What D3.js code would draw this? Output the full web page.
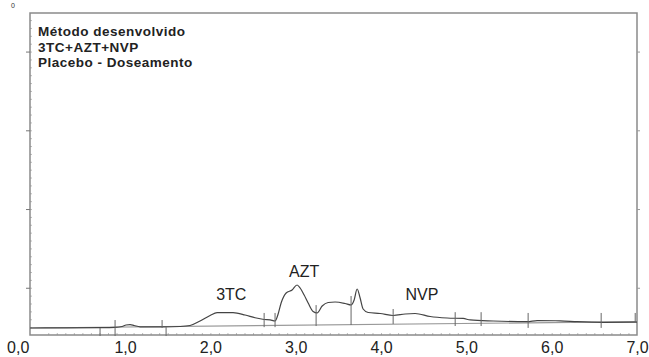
<!DOCTYPE html>
<html>
<head>
<meta charset="utf-8">
<script src="https://cdn.jsdelivr.net/npm/d3@7"></script>
<style>
    body { margin: 0; background: #fff; }
    text { font-family: "Liberation Sans", Arial, sans-serif; }
</style>
</head>
<body>
<svg id="chart" width="649" height="357"></svg>
<script>
'use strict';

// chromatogram trace, time (min) / signal
const traceTime = [-0.114, 0.238, 0.707, 0.883, 0.965, 1.012, 1.059, 1.106, 1.176, 1.434, 1.645, 1.762,
    1.879, 1.997, 2.079, 2.266, 2.407, 2.524, 2.630, 2.700, 2.758, 2.794, 2.829, 2.888, 2.958, 3.016,
    3.052, 3.099, 3.146, 3.204, 3.251, 3.310, 3.380, 3.462, 3.579, 3.649, 3.685, 3.720, 3.755, 3.790,
    3.849, 3.990, 4.142, 4.283, 4.400, 4.576, 4.775, 4.963, 5.045, 5.315, 5.713, 5.830, 6.100, 6.299,
    6.604, 7.0];
const traceSignal = [0.089, 0.091, 0.094, 0.098, 0.108, 0.127, 0.132, 0.121, 0.104, 0.102, 0.108, 0.121,
    0.178, 0.248, 0.283, 0.283, 0.254, 0.219, 0.197, 0.191, 0.178, 0.267, 0.407, 0.534, 0.572, 0.635,
    0.597, 0.508, 0.407, 0.299, 0.280, 0.368, 0.413, 0.419, 0.400, 0.381, 0.445, 0.584, 0.470, 0.330,
    0.286, 0.273, 0.248, 0.267, 0.273, 0.235, 0.216, 0.210, 0.191, 0.178, 0.169, 0.182, 0.180, 0.169,
    0.161, 0.163];

// integration baseline end points
const baselineTime = [-0.114, 7.0];
const baselineSignal = [0.089, 0.169];

// integration events (vertical marks)
const eventTime = [0.707, 0.883, 1.434, 1.481, 2.630, 2.758, 3.239, 3.649, 4.142, 4.869, 5.173, 5.724, 6.580, 6.979];
const eventTop = [0.089, 0.19, 0.19, 0.10, 0.28, 0.28, 0.38, 0.495, 0.33, 0.29, 0.29, 0.28, 0.28, 0.28];
const eventBottom = [-0.013, -0.013, 0.089, -0.013, 0.10, 0.10, 0.114, 0.127, 0.14, 0.114, 0.114, 0.09, 0.09, 0.165];

// peak names
const peakNames = ["3TC", "AZT", "NVP"];
const peakTime = [2.245, 3.098, 4.48];
const peakLabelLevel = [0.445, 0.737, 0.445];

const xTicks = [0, 1, 2, 3, 4, 5, 6, 7];
const yMajorTicks = [0.6, 1.6, 2.6, 3.6];

const titleLines = ["Método desenvolvido", "3TC+AZT+NVP", "Placebo - Doseamento"];

const svg = d3.select("#chart");
const frame = { left: 30, top: 13, right: 637, bottom: 335 };

const x = d3.scaleLinear().domain([-0.114, 7.0]).range([frame.left, frame.right]);
const y = d3.scaleLinear().domain([0, 4.09]).range([frame.bottom, frame.top]);

// minor ticks on the left (inside)
const minorTicks = d3.range(0.1, 4.05, 0.1);
svg.append("g")
    .attr("transform", `translate(${frame.left},0)`)
    .call(d3.axisRight(y).tickValues(minorTicks).tickSize(2).tickFormat(""))
    .call(g => g.select(".domain").remove())
    .call(g => g.selectAll("line").attr("stroke", "#bbb"));

// bottom minor ticks (inside)
svg.append("g")
    .attr("transform", `translate(0,${frame.bottom})`)
    .call(d3.axisTop(x).tickValues(d3.range(0.1, 7.0, 0.1)).tickSize(2).tickFormat(""))
    .call(g => g.select(".domain").remove())
    .call(g => g.selectAll("line").attr("stroke", "#bbb"));

// frame
svg.append("rect")
    .attr("x", frame.left)
    .attr("y", frame.top)
    .attr("width", frame.right - frame.left)
    .attr("height", frame.bottom - frame.top)
    .attr("fill", "none")
    .attr("stroke", "#8a8a8a")
    .attr("stroke-width", 1.5);

// left major ticks
svg.append("g")
    .attr("transform", `translate(${frame.left},0)`)
    .call(d3.axisLeft(y).tickValues(yMajorTicks).tickSize(4).tickFormat(""))
    .call(g => g.select(".domain").remove())
    .call(g => g.selectAll("line").attr("stroke", "#777"));

// right major ticks
svg.append("g")
    .attr("transform", `translate(${frame.right},0)`)
    .call(d3.axisRight(y).tickValues(yMajorTicks).tickSize(3).tickFormat(""))
    .call(g => g.select(".domain").remove())
    .call(g => g.selectAll("line").attr("stroke", "#999"));

// top "0" marker
svg.append("text")
    .attr("x", 13)
    .attr("y", 8)
    .attr("font-size", 7)
    .attr("text-anchor", "middle")
    .attr("fill", "#333")
    .text("0");

// x axis labels
const xAxis = svg.append("g")
    .attr("transform", `translate(0,${frame.bottom})`)
    .call(d3.axisBottom(x).tickValues(xTicks).tickSize(0).tickPadding(7)
        .tickFormat(d => d3.format(".1f")(d).replace(".", ",")));
xAxis.select(".domain").remove();
xAxis.selectAll("text")
    .attr("font-size", 16)
    .attr("fill", "#222")
    .attr("font-family", "\"Liberation Sans\", Arial, sans-serif")
    .filter(d => d === 0)
    .attr("dx", -22);

// integration baseline
svg.append("line")
    .attr("x1", x(baselineTime[0]))
    .attr("y1", y(baselineSignal[0]))
    .attr("x2", x(baselineTime[1]))
    .attr("y2", y(baselineSignal[1]))
    .attr("stroke", "#999")
    .attr("stroke-width", 1.2);

// trace
const line = d3.line()
    .x((d, i) => x(traceTime[i]))
    .y(d => y(d))
    .curve(d3.curveMonotoneX);

svg.append("path")
    .datum(traceSignal)
    .attr("d", line)
    .attr("fill", "none")
    .attr("stroke", "#444")
    .attr("stroke-width", 1.2);

// integration event marks
svg.append("g")
    .selectAll("line")
    .data(eventTime)
    .join("line")
    .attr("x1", d => x(d))
    .attr("x2", d => x(d))
    .attr("y1", (d, i) => y(eventTop[i]))
    .attr("y2", (d, i) => y(eventBottom[i]))
    .attr("stroke", "#666")
    .attr("stroke-width", 1);

// peak labels
svg.append("g")
    .selectAll("text")
    .data(peakNames)
    .join("text")
    .attr("x", (d, i) => x(peakTime[i]))
    .attr("y", (d, i) => y(peakLabelLevel[i]))
    .attr("text-anchor", "middle")
    .attr("font-size", 16)
    .attr("fill", "#222")
    .text(d => d);

// title block
svg.append("g")
    .selectAll("text")
    .data(titleLines)
    .join("text")
    .attr("x", 38)
    .attr("y", (d, i) => 36 + i * 15.5)
    .attr("font-size", 13.5)
    .attr("letter-spacing", 0.5)
    .attr("font-weight", "bold")
    .attr("fill", "#222")
    .text(d => d);
</script>
</body>
</html>
